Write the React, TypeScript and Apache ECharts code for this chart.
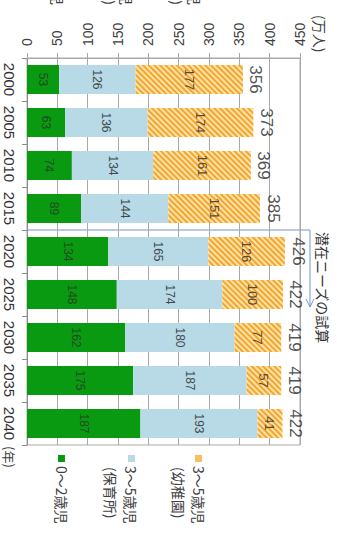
import React, { useEffect, useRef } from "react";
import * as echarts from "echarts";

// 年次（縦書きレイアウトでは上から下へ）
const years = ["2000", "2005", "2010", "2015", "2020", "2025", "2030", "2035", "2040"];
// 0～2歳児（万人）
const age0to2 = [53, 63, 74, 89, 134, 148, 162, 175, 187];
// 3～5歳児（保育所）
const age3to5Nursery = [126, 136, 134, 144, 165, 174, 180, 187, 193];
// 3～5歳児（幼稚園）
const age3to5Kinder = [177, 174, 161, 151, 126, 100, 77, 57, 41];
// 合計
const totals = [356, 373, 369, 385, 426, 422, 419, 419, 422];

const FONT = "'Liberation Sans', 'Noto Sans CJK JP', sans-serif";
const JP_FONT = "'Noto Sans CJK JP', sans-serif";
const GREEN = "#0a9a12";
const LIGHT_BLUE = "#b7dae6";
const ORANGE_BG = "#fde2ad";
const ORANGE_STRIPE = "#f4a62a";
const GRID_COLOR = "#a8a8a8";
const ROT = -Math.PI / 2;

const vText = (x: number, y: number, text: string, size: number, align: string = "left", color = "#404040") => ({
  type: "text",
  x,
  y,
  rotation: ROT,
  silent: true,
  style: {
    text,
    fill: color,
    font: `${size}px ${JP_FONT}`,
    align,
    verticalAlign: "middle",
  },
});

export default function App() {
  const ref = useRef<HTMLDivElement>(null);

  useEffect(() => {
    if (!ref.current) return;
    const chart = echarts.init(ref.current, null, { renderer: "svg" });

    const segmentLabel = (color: string, size = 12) => ({
      show: true,
      position: "inside",
      rotate: -90,
      fontSize: size,
      fontFamily: FONT,
      color,
    });

    chart.setOption({
      animation: false,
      backgroundColor: "#ffffff",
      grid: {
        left: 27,
        top: 58,
        width: 273,
        height: 387,
        show: true,
        borderColor: GRID_COLOR,
        borderWidth: 1,
      },
      xAxis: {
        type: "value",
        position: "top",
        min: 0,
        max: 450,
        interval: 50,
        axisLine: { show: true, lineStyle: { color: GRID_COLOR } },
        axisTick: { show: true, length: 5, lineStyle: { color: GRID_COLOR } },
        splitLine: { show: true, lineStyle: { color: GRID_COLOR } },
        axisLabel: {
          rotate: -90,
          margin: 12,
          fontSize: 14,
          fontFamily: FONT,
          color: "#404040",
        },
      },
      yAxis: {
        type: "category",
        data: years,
        inverse: true,
        axisLine: { show: true, lineStyle: { color: "#8c8c8c" } },
        axisTick: { show: true, length: 5, lineStyle: { color: "#8c8c8c" } },
        axisLabel: {
          interval: 0,
          rotate: -90,
          margin: 10,
          fontSize: 15,
          fontFamily: FONT,
          color: "#333333",
        },
      },
      series: [
        {
          name: "0～2歳児",
          type: "bar",
          stack: "total",
          barWidth: 29,
          data: age0to2,
          itemStyle: { color: GREEN },
          label: segmentLabel("#1f4d1f"),
        },
        {
          name: "3～5歳児（保育所）",
          type: "bar",
          stack: "total",
          barWidth: 29,
          data: age3to5Nursery,
          itemStyle: { color: LIGHT_BLUE },
          label: segmentLabel("#3f4a50"),
        },
        {
          name: "3～5歳児（幼稚園）",
          type: "bar",
          stack: "total",
          barWidth: 29,
          data: age3to5Kinder,
          itemStyle: {
            color: ORANGE_BG,
            decal: {
              symbol: "rect",
              symbolSize: 1,
              dashArrayX: [1, 0],
              dashArrayY: [2, 2],
              rotation: Math.PI / 4,
              color: ORANGE_STRIPE,
            },
          },
          label: segmentLabel("#5a4a30", 13),
        },
        {
          name: "合計",
          type: "scatter",
          symbol: "circle",
          symbolSize: 1,
          itemStyle: { color: "rgba(0,0,0,0)" },
          data: totals.map((t, i) => [t, years[i]]),
          label: {
            show: true,
            position: "right",
            distance: 4,
            rotate: -90,
            align: "center",
            verticalAlign: "bottom",
            fontSize: 17,
            fontFamily: FONT,
            color: "#262626",
            formatter: (p: any) => String(p.value[0]),
          },
        },
      ],
      graphic: [
        // 単位・軸名
        vText(320, 15, "(万人)", 14),
        vText(9, 446, "(年)", 13),
        // 潜在ニーズの試算の矢印
        {
          type: "polyline",
          silent: true,
          shape: { points: [[28, 230], [310, 230], [310, 307]] },
          style: { stroke: "#7396c9", lineWidth: 1, fill: "none" },
        },
        {
          type: "polyline",
          silent: true,
          shape: { points: [[306, 299], [310, 307], [314, 299]] },
          style: { stroke: "#7396c9", lineWidth: 1, fill: "none" },
        },
        vText(323, 232, "潜在ニーズの試算", 14, "left", "#333333"),
        // 凡例
        { type: "rect", silent: true, shape: { x: 58, y: 455, width: 7, height: 7 }, style: { fill: GREEN } },
        vText(62, 466, "0～2歳児", 14),
        { type: "rect", silent: true, shape: { x: 128, y: 455, width: 7, height: 7 }, style: { fill: LIGHT_BLUE } },
        vText(131, 466, "3～5歳児", 14),
        vText(111, 467, "(保育所)", 14),
        { type: "rect", silent: true, shape: { x: 195, y: 455, width: 7, height: 7 }, style: { fill: "#f6c062" } },
        vText(199, 466, "3～5歳児", 14),
        vText(179, 467, "(幼稚園)", 14),
        // 上端に見切れた凡例の末尾
        vText(58, 5, "0～2歳児", 14, "right"),
        vText(110, 5, "(保育所)", 14, "right"),
        vText(127, 5, "3～5歳児", 14, "right"),
        vText(177, 5, "(幼稚園)", 14, "right"),
        vText(195, 5, "3～5歳児", 14, "right"),
      ],
    });

    return () => chart.dispose();
  }, []);

  return (
    <div
      ref={ref}
      style={{ position: "fixed", left: 0, top: 0, width: 337, height: 546, background: "#fff" }}
    />
  );
}
